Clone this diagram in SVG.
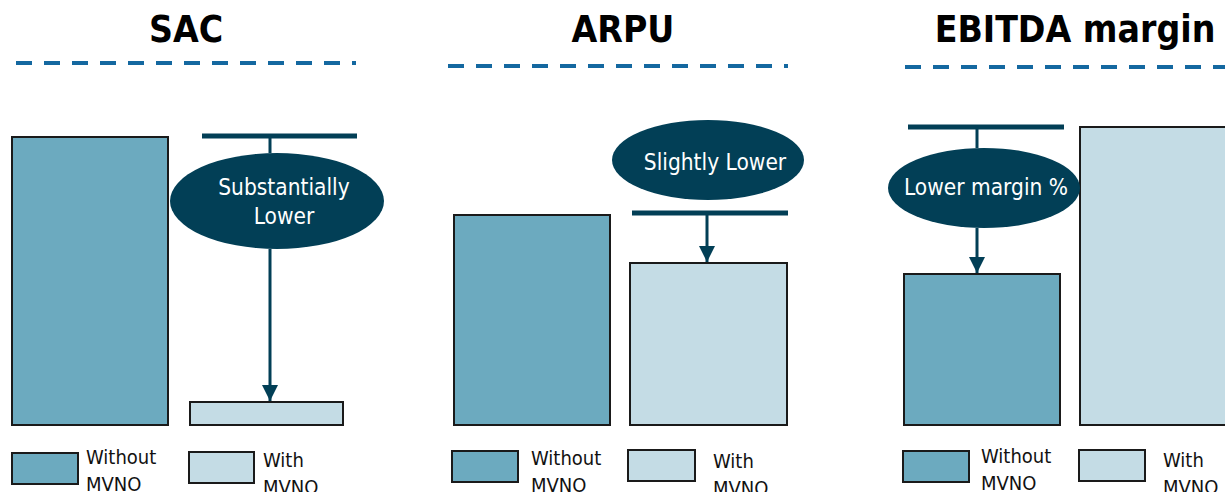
<svg xmlns="http://www.w3.org/2000/svg" width="1225" height="492" viewBox="0 0 1225 492">
  <style>
    .title { font-family: "DejaVu Sans Condensed", "DejaVu Sans", sans-serif; font-weight: bold; font-size: 37px; fill: #000; text-anchor: middle; }
    .rule { stroke: #1468a0; stroke-width: 4; stroke-dasharray: 16 12; fill: none; }
    .bar-dark { fill: #6caabf; stroke: #1a1a1a; stroke-width: 2; }
    .bar-light { fill: #c4dce5; stroke: #1a1a1a; stroke-width: 2; }
    .cap { stroke: #023f56; stroke-width: 5; fill: none; }
    .stem { stroke: #023f56; stroke-width: 3; fill: none; }
    .oval { fill: #023f56; }
    .oval-text { font-family: "DejaVu Sans Condensed", "DejaVu Sans", sans-serif; font-size: 22.5px; fill: #fff; text-anchor: middle; }
    .legend { font-family: "DejaVu Sans Condensed", "DejaVu Sans", sans-serif; font-size: 20px; fill: #111; }
  </style>
  <defs>
    <marker id="arrow" markerUnits="userSpaceOnUse" markerWidth="18" markerHeight="16" viewBox="0 0 18 16" refX="16" refY="8" orient="auto">
      <path d="M0,0 L16,8 L0,16 Z" fill="#023f56"/>
    </marker>
  </defs>

  <!-- Panel: SAC -->
  <g id="sac">
    <text class="title" x="186" y="42">SAC</text>
    <line class="rule" x1="16" y1="63" x2="356" y2="63"/>
    <rect id="sac-without" class="bar-dark" x="12" y="137" width="156" height="288"/>
    <rect id="sac-with" class="bar-light" x="190" y="402" width="153" height="23"/>
    <g id="sac-label">
      <ellipse class="oval" cx="277" cy="201" rx="107" ry="48"/>
      <text class="oval-text" x="284" y="195">Substantially</text>
      <text class="oval-text" x="284" y="224">Lower</text>
    </g>
    <rect class="bar-dark" x="12" y="453" width="66" height="31"/>
    <text class="legend" x="86" y="464">Without</text>
    <text class="legend" x="86" y="491">MVNO</text>
    <rect class="bar-light" x="189" y="452" width="65" height="31"/>
    <text class="legend" x="263" y="467">With</text>
    <text class="legend" x="263" y="494">MVNO</text>
  </g>

  <!-- Panel: ARPU -->
  <g id="arpu">
    <text class="title" x="623" y="42">ARPU</text>
    <line class="rule" x1="448" y1="66" x2="788" y2="66"/>
    <rect id="arpu-without" class="bar-dark" x="454" y="215" width="156" height="210"/>
    <rect id="arpu-with" class="bar-light" x="630" y="263" width="157" height="162"/>
    <g id="arpu-label">
      <ellipse class="oval" cx="708" cy="160" rx="96" ry="40"/>
      <text class="oval-text" x="715" y="170">Slightly Lower</text>
    </g>
    <rect class="bar-dark" x="452" y="451" width="66" height="31"/>
    <text class="legend" x="531" y="465">Without</text>
    <text class="legend" x="531" y="492">MVNO</text>
    <rect class="bar-light" x="628" y="450" width="67" height="31"/>
    <text class="legend" x="713" y="468">With</text>
    <text class="legend" x="713" y="495">MVNO</text>
  </g>

  <!-- Panel: EBITDA margin -->
  <g id="ebitda">
    <text class="title" x="1075" y="42">EBITDA margin</text>
    <line class="rule" x1="905" y1="67" x2="1225" y2="67"/>
    <rect id="ebitda-without" class="bar-dark" x="904" y="274" width="156" height="151"/>
    <rect id="ebitda-with" class="bar-light" x="1080" y="127" width="150" height="298"/>
    <g id="ebitda-label">
      <ellipse class="oval" cx="984" cy="188" rx="96" ry="40"/>
      <text class="oval-text" x="986" y="195">Lower margin %</text>
    </g>
    <rect class="bar-dark" x="903" y="451" width="66" height="31"/>
    <text class="legend" x="981" y="463">Without</text>
    <text class="legend" x="981" y="490">MVNO</text>
    <rect class="bar-light" x="1079" y="450" width="66" height="31"/>
    <text class="legend" x="1163" y="467">With</text>
    <text class="legend" x="1163" y="494">MVNO</text>
  </g>

  <!-- Connectors: reference caps and drop arrows -->
  <g id="connectors">
    <line class="cap" x1="202" y1="136" x2="357" y2="136"/>
    <line class="stem" x1="270" y1="136" x2="270" y2="153"/>
    <line class="stem" x1="270" y1="249" x2="270" y2="401" marker-end="url(#arrow)"/>

    <line class="cap" x1="632" y1="213" x2="788" y2="213"/>
    <line class="stem" x1="707" y1="213" x2="707" y2="262" marker-end="url(#arrow)"/>

    <line class="cap" x1="908" y1="127" x2="1064" y2="127"/>
    <line class="stem" x1="977" y1="127" x2="977" y2="148"/>
    <line class="stem" x1="977" y1="228" x2="977" y2="273" marker-end="url(#arrow)"/>
  </g>
</svg>
